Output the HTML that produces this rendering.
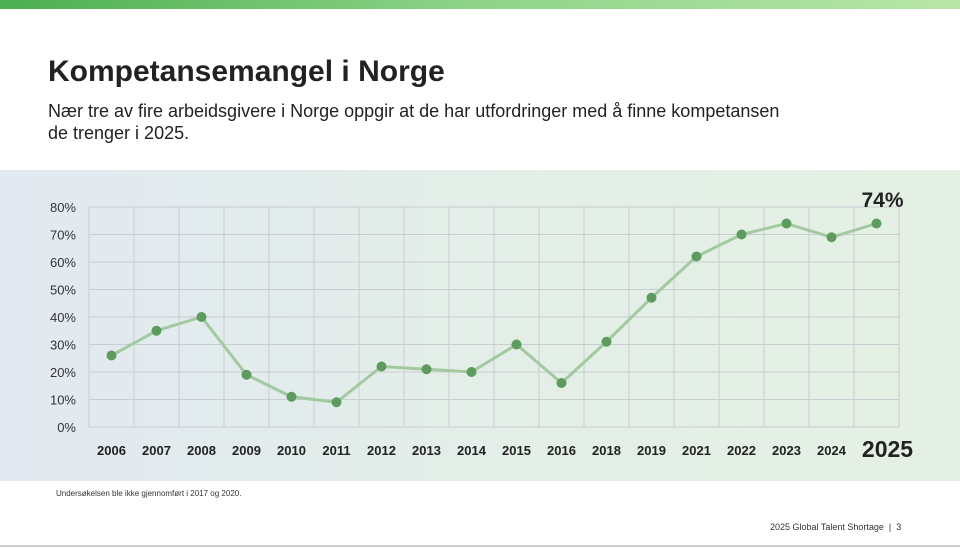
<!DOCTYPE html>
<html><head><meta charset="utf-8"><style>
body{margin:0;width:960px;height:548px;position:relative;background:#fff;font-family:"Liberation Sans",sans-serif;overflow:hidden}
#topbar{position:absolute;left:0;top:0;width:960px;height:9px;background:linear-gradient(90deg,#4caf50,#8fd48a 50%,#b8e6a8)}
#title{position:absolute;left:48px;top:55px;font-size:30px;font-weight:bold;color:#222}
#sub{position:absolute;left:48px;top:100px;font-size:18px;line-height:22px;color:#222;width:800px}
#band{position:absolute;left:0;top:170px;width:960px;height:311px;background:linear-gradient(90deg,#e2e9f1,#e3efe6 60%,#e4f0e4)}
svg{position:absolute;left:0;top:0}
#note{position:absolute;left:56px;top:489px;font-size:8px;color:#333}
#foot{position:absolute;left:770px;top:522px;font-size:9px;color:#333}
#bline{position:absolute;left:0;top:545px;width:960px;height:2px;background:#ccc}
</style></head><body>
<div id="topbar"></div>
<div id="title">Kompetansemangel i Norge</div>
<div id="sub">Nær tre av fire arbeidsgivere i Norge oppgir at de har utfordringer med å finne kompetansen<br>de trenger i 2025.</div>
<div id="band"></div>
<svg id="chart" width="960" height="548"></svg>
<div id="note">Undersøkelsen ble ikke gjennomført i 2017 og 2020.</div>
<div id="foot">2025 Global Talent Shortage &nbsp;| &nbsp;3</div>
<div id="bline"></div>
<script>
const categories=["2006","2007","2008","2009","2010","2011","2012","2013","2014","2015","2016","2018","2019","2021","2022","2023","2024","2025"];
const values=[26,35,40,19,11,9,22,21,20,30,16,31,47,62,70,74,69,74];
const yTicks=[0,10,20,30,40,50,60,70,80];
const NS="http://www.w3.org/2000/svg";
const svg=document.getElementById('chart');
const L=89,R=899,T=207,B=427,yMax=80;
const step=(R-L)/categories.length;
const x=i=>L+step*(i+0.5);
const y=v=>B-(v/yMax)*(B-T);
function mk(t,a){const e=document.createElementNS(NS,t);for(const k in a)e.setAttribute(k,a[k]);svg.appendChild(e);return e;}
yTicks.forEach(t=>{
 const g=mk('line',{x1:L,x2:R,y1:y(t),y2:y(t),stroke:'#c8cdd2','stroke-width':1});
 
 
 const tx=mk('text',{x:76,y:y(t)+5,'text-anchor':'end','font-size':13,fill:'#333','font-family':'Liberation Sans'});
 tx.textContent=t+'%';
 
 
});
for(let i=0;i<=categories.length;i++){
 const g=mk('line',{x1:L+step*i,x2:L+step*i,y1:T,y2:B,stroke:'#c8cdd2','stroke-width':1});
 
 
}
categories.forEach((c,i)=>{
 const last=i===categories.length-1;
 const tx=mk('text',{x:x(i)+(last?11:0),y:last?457:455,'text-anchor':'middle','font-size':last?23:13,'font-weight':'bold',fill:'#222','font-family':'Liberation Sans'});
 tx.textContent=c;
 
 
});
const pl=mk('polyline',{points:values.map((v,i)=>x(i)+','+y(v)).join(' '),fill:'none',stroke:'#a3c9a0','stroke-width':3});


values.forEach((v,i)=>{
 const c=mk('circle',{cx:x(i),cy:y(v),r:5,fill:'#5e9c5e'});
 
 
});
const li=values.length-1;
const lab=mk('text',{x:x(li)+6,y:207,'text-anchor':'middle','font-size':21,'font-weight':'bold',fill:'#222','font-family':'Liberation Sans'});
lab.textContent=values[li]+'%';


</script>
</body></html>
